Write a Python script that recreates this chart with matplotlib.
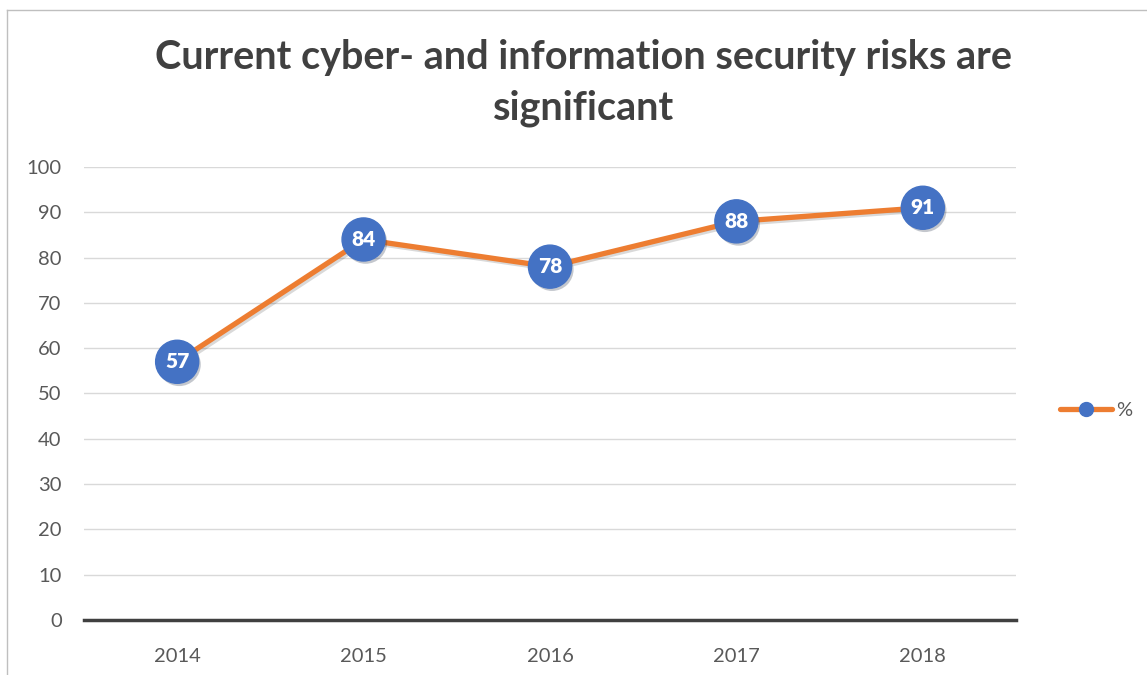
import matplotlib
matplotlib.use('Agg')
import matplotlib.pyplot as plt
import matplotlib.patheffects as pe
from matplotlib.lines import Line2D

years = ['2014', '2015', '2016', '2017', '2018']
values = [57, 84, 78, 88, 91]
yticks = [0, 10, 20, 30, 40, 50, 60, 70, 80, 90, 100]

plt.rcParams['font.family'] = ['Lato', 'DejaVu Sans']

orange = '#ED7D31'
blue = '#4472C4'
grey = '#595959'

fig = plt.figure(figsize=(11.47, 6.75), dpi=100)
ax = fig.add_axes([0.0732, 0.0815, 0.8126, 0.6711])

x = list(range(len(years)))
ax.plot(x, values, color=orange, lw=3.8, solid_capstyle='round', zorder=3,
        path_effects=[pe.SimpleLineShadow(offset=(1.5, -1.5), alpha=0.15), pe.Normal()])
ax.plot(x, values, 'o', color=blue, ms=31, mec=blue, zorder=4,
        path_effects=[pe.SimplePatchShadow(offset=(1.5, -2), alpha=0.25), pe.Normal()])
for xi, v in zip(x, values):
    ax.text(xi, v, str(v), color='white', fontsize=15, fontweight='heavy',
            ha='center', va='center', zorder=5)

ax.set_xlim(-0.5, len(years) - 0.5)
ax.set_ylim(0, 100)
ax.set_yticks(yticks)
ax.set_xticks(x)
ax.set_xticklabels(years)
ax.yaxis.grid(True, color='#D9D9D9', lw=1)
ax.set_axisbelow(True)
for s in ['top', 'right', 'left']:
    ax.spines[s].set_visible(False)
ax.spines['bottom'].set_color('#404040')
ax.spines['bottom'].set_linewidth(2.5)
ax.spines['bottom'].set_zorder(6)
ax.tick_params(axis='both', length=0, labelsize=14.5, labelcolor=grey)
ax.tick_params(axis='x', pad=20)
ax.tick_params(axis='y', pad=16)

fig.text(0.509, 0.877, 'Current cyber- and information security risks are\nsignificant',
         ha='center', va='center', fontsize=28.5, fontweight='bold', color='#404040',
         linespacing=1.42)

handle = Line2D([], [], color=orange, lw=3.8, marker='o', ms=10, mfc=blue, mec=blue,
                solid_capstyle='round')
fig.legend([handle], ['%'], loc='center left', bbox_to_anchor=(0.908, 0.392),
           frameon=False, fontsize=14.5, handlelength=2.6, handletextpad=0.2,
           labelcolor=grey)

# chart border
fig.add_artist(Line2D([0.0061, 0.0061], [0, 0.985], color='#BFBFBF', lw=1))
fig.add_artist(Line2D([0.0061, 1], [0.985, 0.985], color='#BFBFBF', lw=1))

fig.savefig('out.png', dpi=100, facecolor='white')
